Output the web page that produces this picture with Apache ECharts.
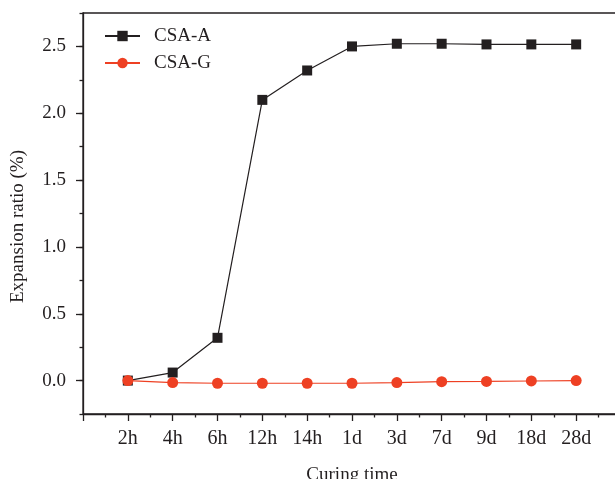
<!DOCTYPE html>
<html>
<head>
<meta charset="utf-8">
<script src="https://cdn.jsdelivr.net/npm/echarts@6/dist/echarts.min.js"></script>
<style>
  html, body { margin: 0; padding: 0; background: #fff; }
  #chart { width: 615px; height: 479px; }
</style>
</head>
<body>
<div id="chart"></div>
<script>
// curing times (categories)
const categories = ['2h', '4h', '6h', '12h', '14h', '1d', '3d', '7d', '9d', '18d', '28d']
// expansion ratio, %
const csaA = [0, 0.06, 0.32, 2.1, 2.32, 2.5, 2.52, 2.52, 2.515, 2.515, 2.515]
const csaG = [0, -0.015, -0.02, -0.02, -0.02, -0.02, -0.015, -0.008, -0.006, -0.003, 0]
// y tick labels
const yTicks = [0, 0.5, 1.0, 1.5, 2.0, 2.5]

const ink = '#231f20'
const red = '#ee4023'
const font = '"Liberation Serif", "DejaVu Serif", serif'

const myChart = echarts.init(document.getElementById('chart'))

const toPoints = arr => arr.map((v, i) => [i + 1, v])

const option = {
  animation: false,
  backgroundColor: '#fff',
  textStyle: { fontFamily: font },
  grid: {
    left: 83,
    top: 13,
    bottom: 65,
    width: 538,
    outerBoundsMode: 'none',
    containLabel: false,
    show: true,
    borderColor: ink,
    borderWidth: 1.3
  },
  legend: {
    orient: 'vertical',
    left: 104,
    top: 26,
    padding: 0,
    itemWidth: 35,
    itemHeight: 13,
    itemGap: 7,
    textStyle: { fontFamily: font, fontSize: 19, lineHeight: 20, color: ink, padding: [0, 0, 0, 9] },
    data: ['CSA-A', 'CSA-G']
  },
  xAxis: {
    type: 'value',
    min: 0,
    max: categories.length + 1,
    interval: 1,
    name: 'Curing time',
    nameLocation: 'middle',
    nameGap: 52,
    nameTextStyle: { fontFamily: font, fontSize: 19, color: ink },
    axisLine: { onZero: false, lineStyle: { color: ink, width: 1.3 } },
    axisTick: { length: 7, lineStyle: { color: ink, width: 1.3 } },
    minorTick: { show: true, splitNumber: 2, length: 3.5, lineStyle: { color: ink, width: 1.3 } },
    splitLine: { show: false },
    axisLabel: {
      margin: 15,
      fontFamily: font,
      fontSize: 20,
      color: ink,
      formatter: v => categories[v - 1] || ''
    }
  },
  yAxis: [
    {
      type: 'value',
      min: -0.25,
      max: 2.75,
      interval: 0.25,
      position: 'left',
      name: 'Expansion ratio (%)',
      nameLocation: 'middle',
      nameGap: 55,
      nameTextStyle: { fontFamily: font, fontSize: 19, color: ink, padding: [0, 26, 0, 0] },
      axisLine: { show: true, onZero: false, lineStyle: { color: ink, width: 1.3 } },
      axisTick: { length: 3.5, lineStyle: { color: ink, width: 1.3 } },
      splitLine: { show: false },
      axisLabel: {
        margin: 17,
        fontFamily: font,
        fontSize: 19,
        color: ink,
        customValues: yTicks,
        formatter: v => v.toFixed(1)
      }
    },
    {
      type: 'value',
      min: -0.25,
      max: 2.75,
      position: 'left',
      offset: 0,
      axisLine: { show: false, onZero: false },
      axisTick: { show: true, length: 7, customValues: yTicks, lineStyle: { color: ink, width: 1.3 } },
      axisLabel: { show: false },
      splitLine: { show: false }
    }
  ],
  series: [
    {
      name: 'CSA-A',
      type: 'line',
      data: toPoints(csaA),
      symbol: 'rect',
      symbolSize: 10,
      itemStyle: { color: ink },
      lineStyle: { color: ink, width: 1.2 }
    },
    {
      name: 'CSA-G',
      type: 'line',
      data: toPoints(csaG),
      symbol: 'circle',
      symbolSize: 11,
      itemStyle: { color: red },
      lineStyle: { color: red, width: 1.2 }
    }
  ]
}

myChart.setOption(option)
</script>
</body>
</html>
